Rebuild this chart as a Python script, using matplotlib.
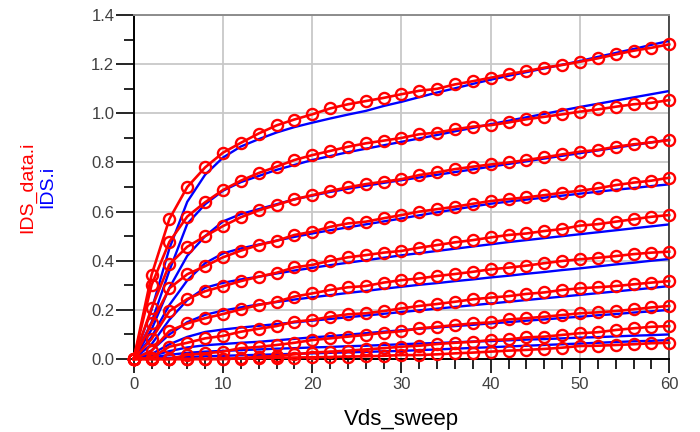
import matplotlib
matplotlib.use("Agg")
import matplotlib.pyplot as plt
from matplotlib.ticker import MultipleLocator

plt.rcParams["font.family"] = ["Liberation Sans", "DejaVu Sans"]

# Vds sweep points (V), one measured point every 2 V
vds = list(range(0, 61, 2))

# measured drain current (IDS_data.i), top curve first
ids_data = [
    [0, 0.342, 0.57, 0.70, 0.78, 0.84, 0.88, 0.918, 0.951, 0.975, 0.996, 1.02, 1.037, 1.05, 1.063, 1.078,
     1.092, 1.10, 1.118, 1.131, 1.145, 1.16, 1.172, 1.186, 1.197, 1.21, 1.224, 1.24, 1.255, 1.267, 1.281],
    [0, 0.301, 0.477, 0.58, 0.638, 0.688, 0.726, 0.757, 0.783, 0.81, 0.83, 0.847, 0.864, 0.878, 0.889, 0.90,
     0.915, 0.922, 0.935, 0.946, 0.952, 0.963, 0.976, 0.986, 0.996, 1.007, 1.016, 1.027, 1.037, 1.043, 1.054],
    [0, 0.206, 0.385, 0.457, 0.50, 0.541, 0.577, 0.605, 0.627, 0.65, 0.667, 0.684, 0.699, 0.712, 0.722, 0.732,
     0.749, 0.76, 0.773, 0.783, 0.792, 0.80, 0.81, 0.821, 0.833, 0.844, 0.851, 0.864, 0.874, 0.882, 0.891],
    [0, 0.145, 0.288, 0.345, 0.378, 0.414, 0.441, 0.464, 0.481, 0.505, 0.518, 0.538, 0.552, 0.559, 0.573, 0.586,
     0.60, 0.61, 0.62, 0.632, 0.643, 0.651, 0.658, 0.667, 0.677, 0.685, 0.695, 0.708, 0.718, 0.726, 0.738],
    [0, 0.081, 0.195, 0.244, 0.276, 0.296, 0.317, 0.335, 0.351, 0.373, 0.383, 0.40, 0.414, 0.423, 0.433, 0.44,
     0.453, 0.464, 0.475, 0.484, 0.495, 0.505, 0.511, 0.521, 0.529, 0.543, 0.549, 0.559, 0.569, 0.579, 0.586],
    [0, 0.033, 0.114, 0.145, 0.166, 0.183, 0.202, 0.22, 0.233, 0.254, 0.267, 0.281, 0.292, 0.297, 0.311, 0.321,
     0.328, 0.338, 0.346, 0.355, 0.365, 0.372, 0.38, 0.39, 0.399, 0.406, 0.412, 0.419, 0.427, 0.433, 0.437],
    [0, 0.005, 0.05, 0.066, 0.084, 0.094, 0.111, 0.123, 0.134, 0.152, 0.159, 0.172, 0.182, 0.186, 0.195, 0.206,
     0.216, 0.224, 0.233, 0.243, 0.25, 0.256, 0.265, 0.271, 0.281, 0.288, 0.292, 0.297, 0.304, 0.311, 0.317],
    [0, 0, 0, 0.017, 0.023, 0.03, 0.044, 0.049, 0.057, 0.066, 0.077, 0.084, 0.091, 0.098, 0.107, 0.113,
     0.125, 0.131, 0.138, 0.145, 0.149, 0.161, 0.166, 0.172, 0.179, 0.186, 0.19, 0.195, 0.202, 0.21, 0.216],
    [0, 0, 0, 0, 0, 0, 0.003, 0.009, 0.012, 0.019, 0.026, 0.03, 0.034, 0.039, 0.044, 0.05,
     0.054, 0.061, 0.066, 0.07, 0.077, 0.08, 0.088, 0.091, 0.098, 0.105, 0.109, 0.118, 0.125, 0.131, 0.134],
    [0, 0, 0, 0, 0, 0, 0.002, 0.004, 0.005, 0.006, 0.007, 0.008, 0.01, 0.011, 0.013, 0.016,
     0.016, 0.019, 0.023, 0.026, 0.03, 0.034, 0.037, 0.041, 0.046, 0.053, 0.054, 0.057, 0.06, 0.064, 0.066],
]

# simulated model current (IDS.i), same order
ids_model = [
    [0, 0.20, 0.45, 0.64, 0.75, 0.82, 0.865, 0.895, 0.922, 0.944, 0.962, 0.979, 0.995, 1.01, 1.03, 1.047,
     1.066, 1.085, 1.102, 1.12, 1.137, 1.153, 1.168, 1.183, 1.198, 1.213, 1.23, 1.246, 1.262, 1.279, 1.295],
    [0, 0.15, 0.36, 0.55, 0.63, 0.685, 0.72, 0.745, 0.77, 0.79, 0.81, 0.826, 0.842, 0.856, 0.87, 0.884,
     0.898, 0.912, 0.927, 0.941, 0.956, 0.970, 0.984, 0.998, 1.012, 1.026, 1.039, 1.052, 1.065, 1.078, 1.091],
    [0, 0.12, 0.29, 0.42, 0.50, 0.56, 0.59, 0.61, 0.63, 0.65, 0.665, 0.68, 0.693, 0.705, 0.717, 0.728,
     0.739, 0.75, 0.761, 0.772, 0.783, 0.794, 0.805, 0.816, 0.827, 0.838, 0.849, 0.86, 0.871, 0.882, 0.893],
    [0, 0.09, 0.22, 0.32, 0.39, 0.43, 0.45, 0.466, 0.482, 0.497, 0.511, 0.524, 0.536, 0.548, 0.56, 0.572,
     0.585, 0.597, 0.609, 0.621, 0.632, 0.641, 0.649, 0.657, 0.665, 0.673, 0.681, 0.689, 0.696, 0.704, 0.711],
    [0, 0.06, 0.16, 0.24, 0.29, 0.31, 0.324, 0.335, 0.348, 0.36, 0.371, 0.382, 0.392, 0.402, 0.412, 0.422,
     0.431, 0.44, 0.449, 0.458, 0.467, 0.476, 0.484, 0.492, 0.50, 0.508, 0.516, 0.524, 0.532, 0.54, 0.548],
    [0, 0.035, 0.10, 0.15, 0.18, 0.197, 0.21, 0.222, 0.232, 0.242, 0.251, 0.26, 0.269, 0.277, 0.286, 0.294,
     0.302, 0.309, 0.317, 0.324, 0.332, 0.339, 0.347, 0.354, 0.362, 0.369, 0.377, 0.385, 0.392, 0.40, 0.407],
    [0, 0.02, 0.06, 0.09, 0.11, 0.12, 0.128, 0.135, 0.142, 0.149, 0.156, 0.163, 0.17, 0.177, 0.184, 0.191,
     0.198, 0.205, 0.212, 0.219, 0.226, 0.233, 0.24, 0.247, 0.254, 0.261, 0.268, 0.275, 0.282, 0.289, 0.297],
    [0, 0.012, 0.032, 0.047, 0.056, 0.061, 0.066, 0.07, 0.076, 0.082, 0.088, 0.093, 0.099, 0.105, 0.111, 0.117,
     0.123, 0.128, 0.134, 0.139, 0.145, 0.15, 0.156, 0.161, 0.167, 0.172, 0.178, 0.183, 0.189, 0.194, 0.20],
    [0, 0.006, 0.017, 0.025, 0.03, 0.033, 0.036, 0.039, 0.042, 0.044, 0.047, 0.049, 0.052, 0.054, 0.057, 0.06,
     0.063, 0.065, 0.068, 0.071, 0.073, 0.076, 0.079, 0.081, 0.084, 0.087, 0.089, 0.092, 0.095, 0.097, 0.10],
    [0, 0.002, 0.005, 0.008, 0.011, 0.013, 0.015, 0.017, 0.019, 0.021, 0.023, 0.025, 0.027, 0.029, 0.031, 0.033,
     0.036, 0.039, 0.042, 0.045, 0.048, 0.051, 0.054, 0.057, 0.06, 0.063, 0.066, 0.069, 0.072, 0.074, 0.077],
]

fig = plt.figure(figsize=(7, 4.32), dpi=100)
ax = fig.add_axes([0.191, 0.169, 0.765, 0.796])

for cur in ids_model:
    ax.plot(vds, cur, "-", color="#0000ff", lw=1.7, zorder=2)
for cur in ids_data:
    ax.plot(vds, cur, "-o", color="#ff0000", lw=1.9, ms=8, mfc="none", mew=1.7,
            zorder=3, clip_on=False)

ax.set_xlim(0, 60)
ax.set_ylim(0, 1.4)
ax.xaxis.set_major_locator(MultipleLocator(10))
ax.xaxis.set_minor_locator(MultipleLocator(2))
ax.yaxis.set_major_locator(MultipleLocator(0.2))
ax.yaxis.set_minor_locator(MultipleLocator(0.1))
ax.yaxis.set_major_formatter(matplotlib.ticker.FormatStrFormatter("%.1f"))
ax.grid(True, which="major", color="#c8c8c8", lw=1.3)
ax.set_axisbelow(True)

ax.tick_params(axis="both", which="major", labelsize=12, labelcolor="#404040", width=1.2)
ax.tick_params(axis="y", which="major", length=13, pad=1)
ax.tick_params(axis="y", which="minor", length=7, width=1.2)
ax.tick_params(axis="x", which="major", length=10, pad=3)
ax.tick_params(axis="x", which="minor", length=7, width=1.2)

for side in ("left", "bottom"):
    ax.spines[side].set_color("black")
    ax.spines[side].set_linewidth(1.4)
ax.spines["top"].set_color("#8c8c8c")
ax.spines["top"].set_linewidth(1.4)
ax.spines["right"].set_color("#303030")
ax.spines["right"].set_linewidth(1.2)

ax.set_xlabel("Vds_sweep", fontsize=16, labelpad=12)
fig.text(0.039, 0.567, "IDS_data.i", color="#ff0000", fontsize=14, rotation=90, ha="center", va="center")
fig.text(0.068, 0.567, "IDS.i", color="#0000ff", fontsize=14, rotation=90, ha="center", va="center")

fig.savefig("out.png", dpi=100)
